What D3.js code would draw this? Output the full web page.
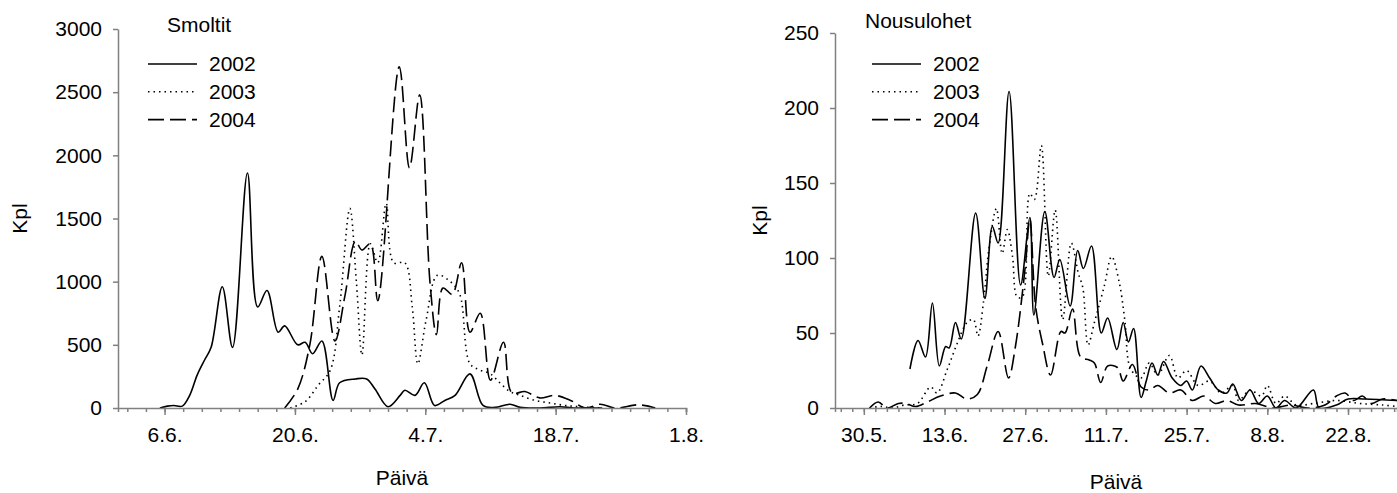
<!DOCTYPE html>
<html>
<head>
<meta charset="utf-8">
<script src="https://cdn.jsdelivr.net/npm/d3@7"></script>
<style>
  body { margin: 0; background: #fff; }
  svg text { font-family: "Liberation Sans", Arial, sans-serif; font-size: 21px; fill: #000; }
  .axis path, .axis line { stroke: #808080; stroke-width: 1.5; }
  .series { fill: none; stroke: #000; stroke-width: 1.6; }
</style>
</head>
<body>
<svg id="chart" width="1397" height="493"></svg>
<script>
// day numbers are counted from 1.6. (0 = 1.6., 30 = 1.7., 61 = 1.8.)
var years = ['2002', '2003', '2004'];

// Smoltit
var smoltDay2002 = [4.5, 5.3, 6.0, 6.9, 7.7, 8.5, 9.3, 10.0, 11.2, 12.3, 13.9, 15.0, 16.0, 17.2, 17.9, 19.3, 20.1, 20.9, 21.9, 23.1, 23.8, 25.5, 26.7, 27.6, 29.0, 30.3, 30.8, 31.9, 32.9, 34.0, 35.1, 36.2, 37.8, 39.2, 40.5, 42.1, 43.2, 45.3, 47.5, 49.0, 52.0];
var smoltKpl2002 = [0, 15, 20, 15, 100, 260, 380, 480, 960, 480, 1860, 800, 930, 600, 650, 500, 520, 430, 530, 60, 200, 230, 230, 150, 10, 100, 140, 100, 200, 20, 60, 100, 270, 20, 5, 30, 5, 0, 10, 0, 0];
var smoltDay2003 = [18.5, 20.1, 21.5, 22.8, 23.8, 24.9, 25.6, 26.2, 27.1, 27.9, 28.8, 29.6, 30.8, 31.6, 32.2, 33.1, 34.3, 35.7, 36.7, 37.8, 38.9, 40.0, 41.0, 42.1, 43.2, 44.8, 46.4, 48.0, 49.6, 51.8];
var smoltKpl2003 = [0, 50, 180, 300, 800, 1580, 1000, 420, 1300, 1150, 1620, 1150, 1150, 800, 350, 700, 1050, 1000, 900, 350, 300, 270, 200, 130, 100, 60, 40, 20, 10, 0];
var smoltDay2004 = [17.9, 19.3, 20.6, 21.9, 23.3, 24.4, 25.5, 26.2, 27.1, 27.9, 30.2, 31.3, 32.4, 33.5, 34.2, 34.9, 35.9, 36.9, 37.8, 38.9, 40.0, 41.4, 42.3, 43.7, 45.3, 46.9, 48.6, 50.2, 51.8, 53.4, 55.9, 57.7];
var smoltKpl2004 = [0, 150, 500, 1200, 530, 900, 1320, 1250, 1300, 850, 2700, 1900, 2480, 1000, 580, 950, 900, 1150, 600, 750, 220, 520, 120, 130, 80, 100, 60, 0, 30, 0, 25, 0];

// Nousulohet
var loheDay2002 = [6.0, 7.4, 8.7, 9.9, 11.1, 12.2, 12.8, 13.9, 14.9, 17.4, 19.0, 20.3, 21.3, 23.2, 25.2, 26.8, 27.5, 29.4, 31.0, 32.0, 33.8, 35.1, 36.1, 37.5, 39.2, 40.3, 41.9, 43.0, 43.9, 44.8, 46.1, 47.0, 48.0, 49.0, 50.0, 51.5, 53.0, 54.0, 55.0, 56.5, 58.0, 59.5, 61.0, 62.0, 63.5, 65.0, 66.5, 68.0, 69.5, 71.0, 73.0, 76.0, 77.0, 80.0, 82.0, 85.0, 90.5];
var loheKpl2002 = [26, 45, 34, 70, 28, 41, 40, 57, 46, 130, 73, 121, 110, 211, 82, 127, 62, 131, 87, 99, 68, 105, 93, 108, 50, 60, 39, 57, 44, 53, 7, 18, 30, 22, 31, 20, 15, 18, 12, 28, 20, 12, 10, 16, 5, 12, 3, 8, 0, 5, 0, 12, 0, 2, 6, 6, 5];
var loheDay2003 = [-1.0, 1.0, 3.0, 5.0, 7.3, 9.6, 10.7, 12.5, 14.2, 15.9, 17.0, 17.8, 18.8, 19.7, 21.0, 22.0, 22.9, 23.8, 24.6, 25.5, 26.8, 27.6, 28.8, 30.0, 31.2, 32.5, 34.0, 35.2, 36.0, 36.9, 38.0, 39.7, 41.0, 42.3, 43.3, 44.3, 46.1, 47.5, 49.0, 51.0, 52.5, 54.0, 56.0, 58.0, 60.0, 62.0, 63.0, 65.0, 67.0, 68.0, 69.5, 71.0, 73.0, 76.0, 80.0, 84.0, 88.0, 90.5];
var loheKpl2003 = [0, 1, 0, 2, 3, 14, 10, 26, 43, 57, 59, 48, 72, 106, 133, 103, 119, 101, 74, 74, 143, 139, 175, 88, 132, 59, 110, 90, 80, 42, 57, 81, 101, 84, 58, 26, 20, 30, 22, 35, 20, 25, 15, 18, 10, 15, 5, 12, 8, 15, 3, 8, 2, 3, 5, 3, 2, 1];
var loheDay2004 = [-1.0, 0.5, 2.0, 4.0, 5.3, 7.0, 9.0, 11.3, 13.9, 15.9, 17.7, 19.4, 21.3, 23.1, 24.3, 26.0, 26.8, 27.8, 29.0, 30.4, 32.2, 32.9, 34.2, 35.6, 37.1, 38.0, 39.1, 40.3, 42.0, 43.0, 44.6, 46.1, 47.5, 49.0, 51.0, 53.0, 55.0, 57.0, 59.0, 61.0, 63.0, 66.0, 69.0, 72.0, 75.0, 78.0, 80.0, 81.5, 83.0, 84.5, 86.0, 88.0, 90.5];
var loheKpl2004 = [0, 4, 0, 3, 3, 1, 4, 8, 10, 6, 9, 28, 51, 20, 41, 94, 126, 68, 43, 22, 51, 50, 66, 34, 32, 30, 17, 28, 27, 18, 29, 14, 12, 15, 10, 12, 5, 8, 3, 5, 2, 3, 0, 2, 0, 2, 8, 10, 5, 8, 3, 6, 5];

var smoltTicks = [0, 500, 1000, 1500, 2000, 2500, 3000];
var loheTicks = [0, 50, 100, 150, 200, 250];

var baseDate = new Date(2002, 5, 1);
var dashes = { '2002': null, '2003': '1.5,4', '2004': '16,6' };

function toDate(day) {
  return new Date(baseDate.getTime() + day * 864e5);
}

function zipSeries(days, vals) {
  return days.map((d, i) => ({ date: toDate(d), kpl: vals[i] }));
}

var svg = d3.select('#chart');

drawPanel({
  id: 'smolt',
  title: 'Smoltit',
  left: 118, right: 686, top: 29, bottom: 408,
  dayRange: [0, 61], firstTick: 1, firstMajor: 5,
  yMax: 3000, yTicks: smoltTicks,
  series: [zipSeries(smoltDay2002, smoltKpl2002), zipSeries(smoltDay2003, smoltKpl2003), zipSeries(smoltDay2004, smoltKpl2004)],
  titleX: 167, titleY: 32, legendX: 148, legendY: 64,
  ylabelX: 20, xlabelY: 485
});

drawPanel({
  id: 'lohi',
  title: 'Nousulohet',
  left: 835, right: 1397, top: 33, bottom: 408,
  dayRange: [-7, 90.5], firstTick: -6, firstMajor: -2,
  yMax: 250, yTicks: loheTicks,
  series: [zipSeries(loheDay2002, loheKpl2002), zipSeries(loheDay2003, loheKpl2003), zipSeries(loheDay2004, loheKpl2004)],
  titleX: 865, titleY: 28, legendX: 872, legendY: 64,
  ylabelX: 760, xlabelY: 489
});

function drawPanel(cfg) {
  var x = d3.scaleTime()
    .domain([toDate(cfg.dayRange[0]), toDate(cfg.dayRange[1])])
    .range([cfg.left, cfg.right]);
  var y = d3.scaleLinear()
    .domain([0, cfg.yMax])
    .range([cfg.bottom, cfg.top]);

  var minor = d3.range(cfg.firstTick, cfg.dayRange[1] + 0.01, 2).map(toDate);
  var major = d3.range(cfg.firstMajor, cfg.dayRange[1] + 0.01, 14).map(toDate);

  svg.append('clipPath')
    .attr('id', 'clip-' + cfg.id)
    .append('rect')
    .attr('x', cfg.left)
    .attr('y', 0)
    .attr('width', cfg.right - cfg.left)
    .attr('height', cfg.bottom);

  // curves
  var line = d3.line()
    .x(d => x(d.date))
    .y(d => y(Math.max(0, d.kpl)))
    .curve(d3.curveCatmullRom.alpha(0.5));

  svg.append('g')
    .attr('clip-path', 'url(#clip-' + cfg.id + ')')
    .selectAll('path')
    .data(cfg.series)
    .enter()
    .append('path')
    .attr('class', 'series')
    .attr('d', line)
    .attr('stroke-dasharray', (d, i) => dashes[years[i]]);

  // axes
  svg.append('g')
    .attr('class', 'axis')
    .attr('transform', `translate(0, ${cfg.bottom})`)
    .call(d3.axisBottom(x).tickValues(minor).tickSize(4).tickFormat(''));

  svg.append('g')
    .attr('class', 'axis')
    .attr('transform', `translate(0, ${cfg.bottom})`)
    .call(d3.axisBottom(x).tickValues(major).tickSize(7).tickPadding(12).tickFormat(d3.timeFormat('%-d.%-m.')))
    .call(g => g.select('.domain').remove())
    .selectAll('text').style('font-size', '21px');

  svg.append('g')
    .attr('class', 'axis')
    .attr('transform', `translate(${cfg.left}, 0)`)
    .call(d3.axisLeft(y).tickValues(cfg.yTicks).tickSize(5).tickPadding(11).tickSizeOuter(0).tickFormat(d3.format('d')))
    .selectAll('text').style('font-size', '21px');

  // axis titles
  svg.append('text')
    .attr('transform', `translate(${cfg.ylabelX}, ${(cfg.top + cfg.bottom) / 2}) rotate(-90)`)
    .attr('text-anchor', 'middle')
    .attr('dy', '0.35em')
    .text('Kpl');

  svg.append('text')
    .attr('x', (cfg.left + Math.min(cfg.right, 1397)) / 2)
    .attr('y', cfg.xlabelY)
    .attr('text-anchor', 'middle')
    .text('Päivä');

  // title + legend
  svg.append('text')
    .attr('x', cfg.titleX)
    .attr('y', cfg.titleY)
    .text(cfg.title);

  var legend = svg.append('g')
    .selectAll('g')
    .data(years)
    .enter()
    .append('g')
    .attr('transform', (d, i) => `translate(${cfg.legendX}, ${cfg.legendY + i * 27.8})`);

  legend.append('line')
    .attr('class', 'series')
    .attr('x1', 0).attr('x2', 49)
    .attr('y1', 0).attr('y2', 0)
    .attr('stroke-dasharray', d => dashes[d]);

  legend.append('text')
    .attr('x', 61)
    .attr('dy', '0.35em')
    .text(d => d);
}
</script>
</body>
</html>
